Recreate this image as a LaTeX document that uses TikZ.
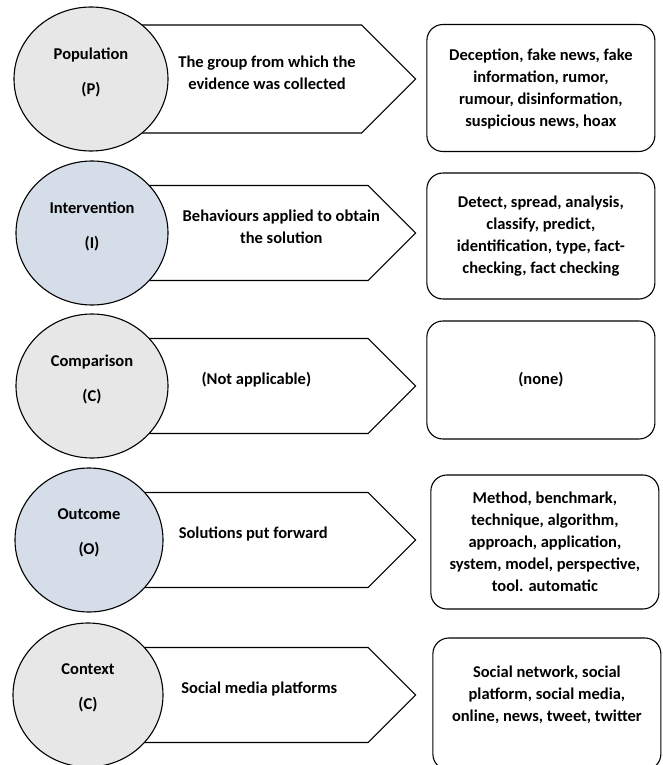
\documentclass[tikz,border=0pt]{standalone}
\usepackage{fontspec}
\setmainfont{Carlito}
\usepackage{tikz}
\usetikzlibrary{shapes.geometric,shapes.symbols,positioning}

\definecolor{elemgrey}{RGB}{231,231,231}
\definecolor{elemblue}{RGB}{213,221,232}

\begin{document}
\begin{tikzpicture}[x=1pt,y=-1pt,line width=1.1pt,
   font=\fontsize{16.5}{22}\selectfont\bfseries,
   element/.style={ellipse,draw,align=center,minimum width=152pt,minimum height=144pt,inner sep=0pt,text depth=16pt},
   meaning/.style={signal,signal to=east,signal pointer angle=90,draw,fill=white,
                   minimum width=315pt,minimum height=95pt,inner sep=0pt},
   meaningtext/.style={align=center,xshift=30pt,yshift=6pt},
   keywords/.style={draw,rounded corners=16pt,align=center,minimum width=228pt,inner sep=0pt},
   node distance=10pt]
   \useasboundingbox (0,0) rectangle (663,765);

   % definitions (the arrows), drawn first so the ellipses cover them
   \node[meaning,minimum height=108pt,anchor=west,
         label={[meaningtext,xshift=6pt]center:The group from which the\\evidence was collected}] (pop_def) at (100,79) {};
   \node[meaning,anchor=west,
         label={[meaningtext,xshift=17pt]center:Behaviours applied to obtain\\the solution}] (int_def) at (100,233) {};
   \node[meaning,anchor=west,
         label={[meaningtext,xshift=-8pt]center:(Not applicable)}] (cmp_def) at (100,386) {};
   \node[meaning,anchor=west,
         label={[meaningtext,xshift=-11pt]center:Solutions put forward}] (out_def) at (100,540) {};
   \node[meaning,anchor=west,
         label={[meaningtext,xshift=-5pt]center:Social media platforms}] (ctx_def) at (100,695) {};

   % PICOC elements
   \node[element,fill=elemgrey,minimum width=154pt] (pop) at ([xshift=-9pt]pop_def.west) {Population\\[13pt](P)};
   \node[element,fill=elemblue] (int) at ([xshift=-8pt]int_def.west) {Intervention\\[13pt](I)};
   \node[element,fill=elemgrey] (cmp) at ([xshift=-8pt]cmp_def.west) {Comparison\\[13pt](C)};
   \node[element,fill=elemblue,minimum width=148pt] (out) at ([xshift=-11pt]out_def.west) {Outcome\\[13pt](O)};
   \node[element,fill=elemgrey,minimum width=150pt] (ctx) at ([xshift=-12pt]ctx_def.west) {Context\\[13pt](C)};

   % search keywords
   \node[keywords,minimum height=127pt,right=of pop_def,yshift=-9pt,text depth=0pt] (pop_kw)
      {Deception, fake news, fake\\information, rumor,\\rumour, disinformation,\\suspicious news, hoax};
   \node[keywords,minimum height=126pt,right=of int_def,yshift=-3pt] (int_kw)
      {Detect, spread, analysis,\\classify, predict,\\identification, type, fact-\\checking, fact checking};
   \node[keywords,minimum height=118pt,right=of cmp_def,yshift=6pt] (cmp_kw) {(none)};
   \node[keywords,minimum height=134pt,right=14pt of out_def,yshift=-2pt,text depth=0pt] (out_kw)
      {Method, benchmark,\\technique, algorithm,\\approach, application,\\system, model, perspective,\\tool. automatic};
   \node[keywords,minimum height=132pt,right=16pt of ctx_def,yshift=-9pt,text depth=20pt] (ctx_kw)
      {Social network, social\\platform, social media,\\online, news, tweet, twitter};
\end{tikzpicture}
\end{document}
